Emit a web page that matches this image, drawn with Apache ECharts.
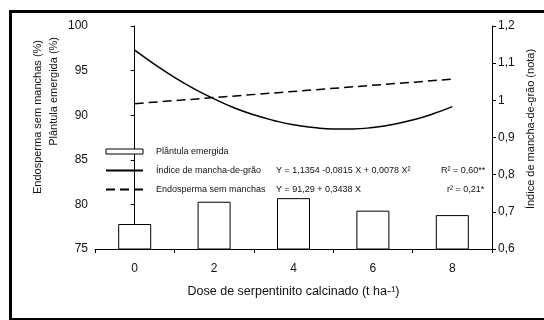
<!DOCTYPE html>
<html><head><meta charset="utf-8">
<script src="https://cdn.jsdelivr.net/npm/echarts@6/dist/echarts.min.js"></script>
<style>html,body{margin:0;padding:0;background:#fff}#c{width:544px;height:320px}</style>
</head><body><div id="c"></div>
<script>
const doses = ['0', '2', '4', '6', '8'];
const plantula = [77.8, 80.3, 80.7, 79.3, 78.8];
const indiceX = [0, 0.5, 1, 1.5, 2, 2.5, 3, 3.5, 4, 4.5, 5, 5.5, 6, 6.5, 7, 7.5, 8];
const indiceY = [1.135, 1.097, 1.062, 1.031, 1.004, 0.980, 0.961, 0.946, 0.934, 0.927, 0.923, 0.923, 0.927, 0.935, 0.947, 0.963, 0.983];
const endospermaX = [0, 8];
const endospermaY = [91.29, 94.04];
const leftAxis = {min: 75, max: 100, interval: 5};
const rightAxis = {min: 0.6, max: 1.2, interval: 0.1};

const FF = '"Liberation Sans", Arial, sans-serif';
const chart = echarts.init(document.getElementById('c'), null, {renderer: 'canvas'});
const eq = {
  'Plântula emergida': ['', ''],
  'Índice de mancha-de-grão': ['Y = 1,1354 -0,0815 X + 0,0078 X²', 'R² = 0,60**'],
  'Endosperma sem manchas': ['Y = 91,29 + 0,3438 X', 'r² = 0,21*']
};
const hideSym = {color: 'rgba(0,0,0,0)', borderColor: 'rgba(0,0,0,0)', borderWidth: 0};
chart.setOption({
  animation: false,
  grid: {left: 95, right: 52, top: 26, bottom: 71},
  xAxis: [{
    type: 'category', data: doses,
    axisLine: {lineStyle: {color: '#000', width: 1}},
    axisTick: {show: true, length: 4, lineStyle: {color: '#000'}},
    axisLabel: {color: '#111', fontSize: 12, fontFamily: FF, margin: 14},
    name: 'Dose de serpentinito calcinado (t ha-¹)', nameLocation: 'middle', nameGap: 36,
    nameTextStyle: {color: '#111', fontSize: 12.5, fontFamily: FF}
  }, {
    type: 'value', min: -1, max: 9, show: false
  }],
  yAxis: [{
    type: 'value', min: leftAxis.min, max: leftAxis.max, interval: leftAxis.interval,
    axisLine: {show: true, lineStyle: {color: '#000'}},
    axisTick: {show: true, length: 4, lineStyle: {color: '#000'}},
    axisLabel: {color: '#111', fontSize: 12, fontFamily: FF, margin: 7},
    splitLine: {show: false}
  }, {
    type: 'value', position: 'right', min: rightAxis.min, max: rightAxis.max, interval: rightAxis.interval,
    axisLine: {show: true, lineStyle: {color: '#000'}},
    axisTick: {show: true, length: 4, lineStyle: {color: '#000'}},
    axisLabel: {color: '#111', fontSize: 12, fontFamily: FF, margin: 6,
      formatter: v => Math.abs(v - 1) < 1e-9 ? '1' : v.toFixed(1).replace('.', ',')},
    splitLine: {show: false}
  }],
  legend: {
    orient: 'vertical', left: 105, top: 146, padding: 0, itemWidth: 37, itemHeight: 5, itemGap: 8,
    data: [
      {name: 'Plântula emergida', icon: 'rect', itemStyle: {color: '#fff', borderColor: '#000', borderWidth: 1}},
      {name: 'Índice de mancha-de-grão', itemStyle: hideSym},
      {name: 'Endosperma sem manchas', itemStyle: hideSym}
    ],
    textStyle: {fontSize: 9, color: '#111', fontFamily: FF, lineHeight: 11,
      rich: {
        s: {width: 8, fontSize: 9, fontFamily: FF},
        a: {width: 120, fontSize: 9, fontFamily: FF, color: '#111'},
        b1: {width: 165, fontSize: 9, fontFamily: FF, color: '#111'},
        b2: {width: 171, fontSize: 9, fontFamily: FF, color: '#111'},
        c: {fontSize: 9, fontFamily: FF, color: '#111'}
      }},
    formatter: name => {
      const e = eq[name];
      if (!e[0]) return '{s|}{a|' + name + '}';
      const b = name === 'Índice de mancha-de-grão' ? 'b1' : 'b2';
      return '{s|}{a|' + name + '}{' + b + '|' + e[0] + '}{c|' + e[1] + '}';
    }
  },
  series: [{
    name: 'Plântula emergida', type: 'bar', xAxisIndex: 0, yAxisIndex: 0,
    data: plantula, barWidth: 33,
    itemStyle: {color: '#fff', borderColor: '#000', borderWidth: 1}
  }, {
    name: 'Índice de mancha-de-grão', type: 'line', xAxisIndex: 1, yAxisIndex: 1,
    data: indiceX.map((x, i) => [x, indiceY[i]]), smooth: true, symbol: 'none', showSymbol: false,
    lineStyle: {color: '#000', width: 1.5}, itemStyle: {color: '#000'}
  }, {
    name: 'Endosperma sem manchas', type: 'line', xAxisIndex: 1, yAxisIndex: 0,
    data: endospermaX.map((x, i) => [x, endospermaY[i]]), symbol: 'none', showSymbol: false,
    lineStyle: {color: '#000', width: 1.5, type: [9, 5]}, itemStyle: {color: '#000'}
  }],
  graphic: [
    {type: 'polyline', shape: {points: [[10.5, 320], [10.5, 11.5], [544, 11.5]]}, style: {stroke: '#000', lineWidth: 3, fill: null}},
    {type: 'line', shape: {x1: 10, y1: 319, x2: 544, y2: 319}, style: {stroke: '#000', lineWidth: 2}},
    {type: 'text', x: 38, y: 40, rotation: Math.PI / 2,
      style: {text: 'Endosperma sem manchas (%)', font: '11px ' + FF, fill: '#111', textAlign: 'right', align: 'right', textVerticalAlign: 'middle', verticalAlign: 'middle'}},
    {type: 'text', x: 54, y: 37, rotation: Math.PI / 2,
      style: {text: 'Plântula emergida (%)', font: '11px ' + FF, fill: '#111', textAlign: 'right', align: 'right', textVerticalAlign: 'middle', verticalAlign: 'middle'}},
    {type: 'text', x: 531, y: 129, rotation: Math.PI / 2,
      style: {text: 'Índice de mancha-de-grão (nota)', font: '11px ' + FF, fill: '#111', textAlign: 'center', align: 'center', textVerticalAlign: 'middle', verticalAlign: 'middle'}}
  ]
});
</script></body></html>
